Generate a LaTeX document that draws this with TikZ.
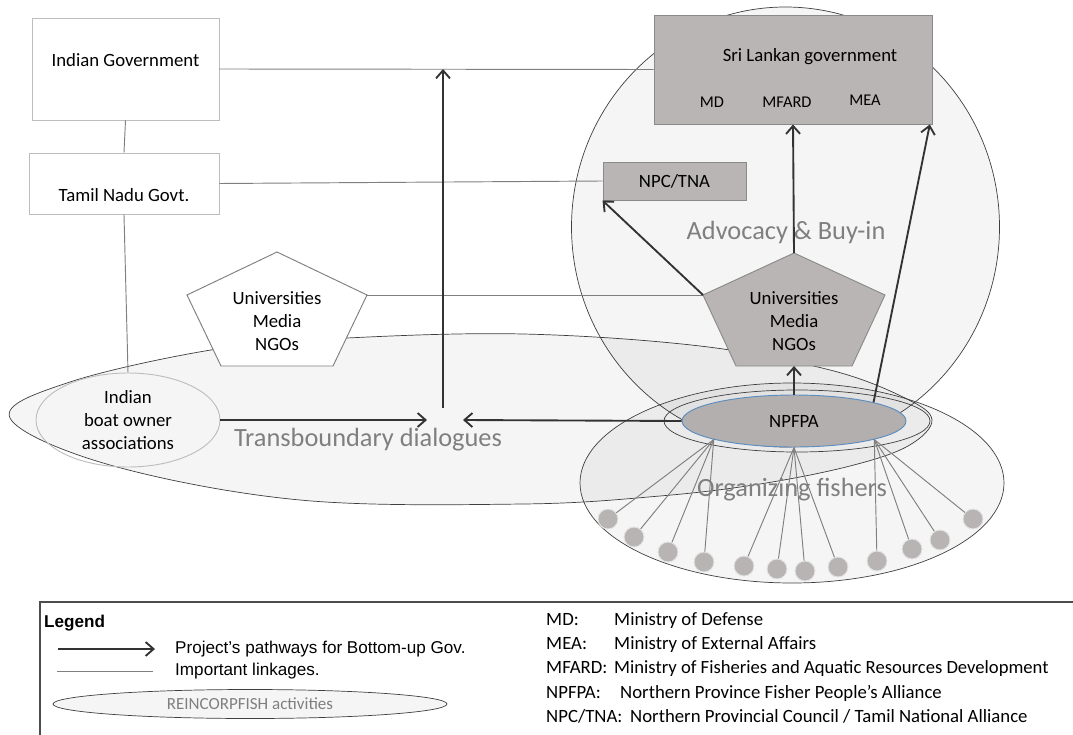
\documentclass[tikz,border=0pt]{standalone}
\usepackage{fontspec}
\setmainfont{Carlito}
\newfontfamily\arialfont{Liberation Sans}
\usetikzlibrary{arrows.meta, positioning, shapes.geometric}
\definecolor{boxgray}{HTML}{B9B5B4}
\definecolor{npfpagray}{HTML}{B3AFAE}
\definecolor{edgegray}{HTML}{8A8A8A}
\definecolor{lightedge}{HTML}{BDBDBD}
\definecolor{linkgray}{HTML}{7F7F7F}
\definecolor{arrowdark}{HTML}{333333}
\definecolor{labelgray}{HTML}{7F7F7F}
\definecolor{regionedge}{HTML}{3F3F3F}
\definecolor{fishfill}{HTML}{B8B4B3}
\definecolor{fishedge}{HTML}{E3E3E3}
\definecolor{npfpaedge}{HTML}{5B8DBE}

\begin{document}
\begin{tikzpicture}[
        x=0.03cm, y=-0.03cm,
        font=\fontsize{16}{19.6}\selectfont,
        govbox/.style={rectangle, draw=lightedge, line width=0.8pt, fill=white, inner sep=0pt},
        greybox/.style={rectangle, draw=edgegray, line width=0.8pt, fill=boxgray, inner sep=0pt},
        pentagon/.style={line width=0.8pt},
        region/.style={draw=regionedge, line width=0.6pt, fill=black, fill opacity=0.04},
        areatext/.style={text=labelgray, font=\fontsize{22.5}{27}\selectfont},
        link/.style={draw=linkgray, line width=0.8pt},
        pathway/.style={-{Straight Barb[length=0.24cm, width=0.42cm]}, line width=1.6pt, draw=arrowdark},
        spoke/.style={draw=linkgray, line width=0.8pt},
        fisher/.style={circle, fill=fishfill, draw=fishedge, line width=0.8pt, minimum size=0.6cm, inner sep=0pt},
        legtext/.style={font=\arialfont\fontsize{14.6}{17}\selectfont, inner sep=0pt},
        abbrev/.style={anchor=base west, inner sep=0pt}
        ]
        \useasboundingbox (0,0) rectangle (1073,735);

        % Regions
        \draw[region] plot[smooth cycle, tension=0.6] coordinates {(10,418) (70,382) (217,349) (347,338) (523,334) (700,346) (830,370) (905,398) (932,420) (908,446) (850,466) (760,484) (660,496) (523,504) (300,500) (110,465)};
        \draw[region] (785.5,227) ellipse [x radius=214, y radius=220];
        \draw[region] (792,483) ellipse [x radius=212, y radius=100];
        \draw[draw=regionedge, line width=0.6pt] (797,421) ellipse [x radius=133, y radius=31];

        \node (advocacy) [areatext] at (786,232) {Advocacy \& Buy-in};
        \node (dialogue) [areatext] at (368,440) {Transboundary dialogues};

        % Nodes
        \node (indgov) [govbox, minimum width=5.61cm, text height=1.47cm, text depth=1.59cm] at (125.5,69) {Indian Government};
        \node (tngov) [govbox, minimum width=5.7cm, text height=1.44cm, text depth=0.39cm] at (124,183.5) {Tamil Nadu Govt.};
        \node (slgov) [greybox, minimum width=8.34cm, minimum height=3.27cm] at (793,69.5) {};
        \node (slname) at (810,57) {Sri Lankan government};
        \node (md) [font=\fontsize{14}{17}\selectfont] at (712,102) {MD};
        \node (mfard) [font=\fontsize{14}{17}\selectfont] at (787,102) {MFARD};
        \node (mea) [font=\fontsize{14}{17}\selectfont] at (865,100) {MEA};
        \node (npc) [greybox, minimum width=4.29cm, minimum height=1.14cm] at (674.5,181) {NPC/TNA};

        \coordinate (lp-t) at (277,252);
        \coordinate (lp-r) at (367,295);
        \coordinate (lp-br) at (333,366);
        \coordinate (lp-bl) at (221,366);
        \coordinate (lp-l) at (187,295);
        \draw[pentagon, draw=linkgray, fill=white] (lp-t) -- (lp-r) -- (lp-br) -- (lp-bl) -- (lp-l) -- cycle;
        \node (lpent) [align=center] at (277,321) {Universities\\Media\\NGOs};

        \coordinate (rp-t) at (794,253);
        \coordinate (rp-r) at (885,295);
        \coordinate (rp-br) at (852,366);
        \coordinate (rp-bl) at (736,366);
        \coordinate (rp-l) at (703,295);
        \coordinate (rp-b) at (794,366);
        \draw[pentagon, draw=edgegray, fill=boxgray] (rp-t) -- (rp-r) -- (rp-br) -- (rp-bl) -- (rp-l) -- cycle;
        \node (rpent) [align=center] at (794,321) {Universities\\Media\\NGOs};

        \node (npfpa) [ellipse, draw=npfpaedge, line width=0.8pt, fill=npfpagray, minimum width=6.72cm, minimum height=1.56cm, inner sep=0pt] at (794,421) {NPFPA};
        \node (boat) [ellipse, draw=lightedge, line width=0.8pt, minimum width=5.52cm, minimum height=2.82cm, inner sep=0pt, align=center] at (128,420) {Indian\\boat owner\\associations};

        \coordinate (hub-w) at (427,420);
        \coordinate (hub-e) at (463,420);
        \coordinate (hub-n) at (443,408);

        % Fishers
        \foreach \x/\y [count=\i] in {608/519, 634/537, 668/552, 704/562, 744/566, 777/569, 805/571, 838/567, 877/561, 912/549, 940/540, 973/519}
            \node (f\i) [fisher] at (\x,\y) {};
        \foreach \i in {1,...,4}
            \draw[spoke] (npfpa.193) -- (f\i);
        \foreach \i in {5,...,8}
            \draw[spoke] (npfpa.south) -- (f\i);
        \foreach \i in {9,...,12}
            \draw[spoke] (npfpa.347) -- (f\i);
        \node (organize) [areatext] at (792,490) {Organizing fishers};

        % Linkages
        \draw[link] (indgov.south) -- (tngov.north);
        \draw[link] (tngov.south) -- (boat.north);
        \draw[link] (indgov.east) -- (slgov.west);
        \draw[link] (tngov.east) -- (npc.west);
        \draw[link] (lp-r) -- (rp-l);

        % Pathways
        \draw[pathway] (hub-n) -- (hub-n |- indgov.east);
        \draw[pathway] (boat.east) -- (hub-w);
        \draw[pathway] (npfpa.west) -- (hub-e);
        \draw[pathway] (npfpa.north) -- (rp-b);
        \draw[pathway] (rp-t) -- (slgov.south);
        \draw[pathway] (rp-l) -- (npc.south west);
        \draw[pathway] (npfpa.north east) -- ([xshift=-0.08cm]slgov.south east);

        % Legend
        \draw[draw=black!70, line width=0.9pt] (1073,602) -- (40,602) -- (40,735);
        \node (legtitle) [abbrev, font=\arialfont\bfseries\fontsize{14.6}{17}\selectfont] at (44,627) {Legend};
        \coordinate (legarrow-a) at (58,649);
        \coordinate (legarrow-b) at (155,649);
        \draw[pathway] (legarrow-a) -- (legarrow-b);
        \node (legpath) [legtext, right=0.6cm of legarrow-b] {Project’s pathways for Bottom-up Gov.};
        \coordinate (leglink-a) at (57,671);
        \coordinate (leglink-b) at (153,671);
        \draw[link] (leglink-a) -- (leglink-b);
        \node (leglinktxt) [legtext, right=0.66cm of leglink-b] {Important linkages.};
        \node (legregion) [ellipse, draw=regionedge, line width=0.6pt, fill=black!4, minimum width=11.82cm, minimum height=0.87cm, inner sep=0pt, text=labelgray, font=\fontsize{14.5}{17}\selectfont] at (250,704) {REINCORPFISH activities};

        \node (ab-md) [abbrev] at (546,625) {MD:};
        \node (def-md) [abbrev] at (614,625) {Ministry of Defense};
        \node (ab-mea) [abbrev] at (546,649) {MEA:};
        \node (def-mea) [abbrev] at (614,649) {Ministry of External Affairs};
        \node (ab-mfard) [abbrev] at (546,673) {MFARD:};
        \node (def-mfard) [abbrev, font=\fontsize{15.9}{19}\selectfont] at (614,673) {Ministry of Fisheries and Aquatic Resources Development};
        \node (ab-npfpa) [abbrev] at (546,698) {NPFPA:};
        \node (def-npfpa) [abbrev] at (620,698) {Northern Province Fisher People’s Alliance};
        \node (ab-npc) [abbrev] at (546,722) {NPC/TNA:};
        \node (def-npc) [abbrev] at (630,722) {Northern Provincial Council / Tamil National Alliance};

    \end{tikzpicture}
\end{document}
